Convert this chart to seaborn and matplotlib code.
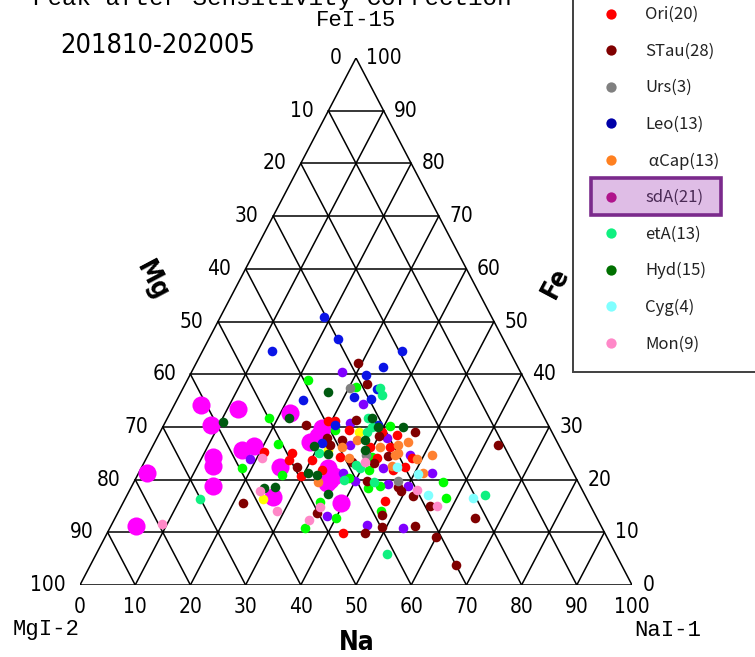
import numpy as np
import pandas as pd
import matplotlib
matplotlib.use("Agg")
import matplotlib.pyplot as plt
from matplotlib import font_manager
from matplotlib.font_manager import FontProperties
from matplotlib.patches import Rectangle
import seaborn as sns

sns.set_theme(style="white")
plt.rcParams["text.color"] = "black"

# ---------------------------------------------------------------- fonts
_fonts = font_manager.fontManager.ttflist


def condensed_font(bold=False):
    """Return a FontProperties for a narrow face, if one is installed."""
    want = "bold" if bold else "normal"
    prefs = ["Liberation Sans Narrow", "DejaVu Sans Condensed",
             "DejaVu Sans", "Roboto Condensed", "Open Sans Condensed",
             "Noto Sans"]
    for pref in prefs:
        for f in _fonts:
            narrow = ("Narrow" in f.name or "Condensed" in f.name
                      or "condensed" in str(f.stretch))
            w = f.weight if isinstance(f.weight, int) else (
                700 if "bold" in str(f.weight) else 400)
            if (f.name == pref and narrow and f.style == "normal"
                    and ((w >= 600) == bold)):
                return FontProperties(fname=f.fname)
    return FontProperties(family=["Liberation Sans", "DejaVu Sans"],
                          weight=want)


NARROW = condensed_font(False)
NARROW_BOLD = condensed_font(True)
MONO = ["Liberation Mono", "DejaVu Sans Mono"]
CJK = ["Noto Sans CJK JP", "DejaVu Sans"]


def fp(base, size):
    p = base.copy()
    p.set_size(size)
    return p


# ---------------------------------------------------------------- data
# Each shower: Na and Fe percentages (Mg = 100 - Na - Fe)
sdA_na = [4.8, 11.9, 8.5, 21.7, 1.5, 12.0, 12.8, 14.7, 16.5, 18.3, 25.0,
          26.6, 4.5, 28.9, 28.1, 33.8, 35.3, 39.5, 35.7, 35.0, 29.0]
sdA_fe = [34.2, 33.4, 30.4, 32.6, 21.3, 24.3, 22.6, 18.8, 25.6, 26.4, 22.4,
          16.7, 11.2, 29.8, 27.1, 22.2, 19.9, 15.6, 20.7, 19.4, 28.3]

ori_na = [29.3, 30.6, 43.2, 40.2, 43.1, 25.9, 26.1, 20.7, 35.0, 47.7,
          30.1, 47.3, 42.7, 48.1, 39.4, 32.9, 45.8, 34.0, 41.8, 29.6]
ori_fe = [31.1, 31.1, 28.5, 29.0, 26.2, 25.0, 23.7, 25.2, 24.3, 22.4,
          23.7, 15.9, 9.9, 24.1, 26.2, 21.8, 21.8, 29.4, 24.1, 20.7]

stau_na = [29.4, 32.9, 46.2, 40.1, 43.6, 41.7, 42.1, 62.4, 49.3, 51.9,
           55.9, 65.2, 59.9, 55.1, 49.2, 46.7, 48.1, 33.8, 30.8, 28.1,
           36.1, 21.7, 66.2, 34.3, 48.3, 37.6, 25.7, 32.0]
stau_fe = [42.1, 38.1, 29.0, 28.3, 24.5, 23.1, 19.7, 26.6, 17.8, 16.9,
           15.0, 12.7, 9.1, 11.2, 11.0, 9.9, 13.3, 27.5, 27.9, 22.4,
           13.7, 15.6, 3.8, 31.3, 18.6, 23.3, 30.4, 26.6]

urs_na = [30.2, 39.5, 47.7]
urs_fe = [37.4, 24.7, 19.7]

leo_na = [18.8, 23.4, 12.6, 36.1, 34.2, 31.9, 35.2, 31.7, 35.1, 22.8,
          38.8, 30.3, 31.0]
leo_fe = [50.9, 46.7, 44.4, 44.4, 41.4, 39.8, 37.2, 35.7, 35.3, 35.1,
          30.4, 26.9, 30.4]

cap_na = [34.4, 36.4, 41.2, 44.3, 45.8, 45.1, 51.5, 36.6, 45.2, 49.1,
          51.4, 33.3, 44.8]
cap_fe = [26.2, 27.5, 26.2, 26.6, 27.1, 25.0, 24.7, 24.1, 22.6, 23.9,
          21.3, 19.5, 24.7]

eta_na = [36.7, 35.6, 36.4, 37.5, 30.8, 38.6, 39.6, 52.7, 13.5, 64.9,
          37.9, 37.8, 43.5]
eta_fe = [36.1, 37.4, 31.7, 29.0, 25.0, 22.8, 22.2, 5.9, 16.3, 17.1,
          30.0, 19.9, 19.5]

hyd_na = [10.4, 22.1, 24.1, 26.0, 26.6, 37.1, 39.0, 43.5, 29.2, 32.5,
          37.8, 38.8, 30.7, 32.4, 36.3]
hyd_fe = [30.9, 31.7, 18.4, 18.6, 36.6, 31.7, 30.0, 30.0, 26.4, 24.9,
          27.5, 25.6, 21.3, 20.9, 17.3]

cyg_na = [46.2, 50.6, 54.5, 62.9]
cyg_fe = [22.4, 21.1, 17.1, 16.5]

mon_na = [21.0, 23.7, 28.7, 9.1, 52.1, 57.2, 36.1, 35.3, 39.9]
mon_fe = [24.1, 17.8, 14.0, 11.6, 18.0, 15.0, 14.8, 12.3, 23.3]

spo_na = [27.3, 34.1, 33.5, 41.7, 47.5, 53.2, 39.9, 46.2, 50.0, 38.2,
          46.3, 53.1, 18.8, 35.6, 43.8, 37.0]
spo_fe = [40.4, 34.3, 30.7, 27.9, 24.7, 21.3, 19.7, 19.2, 18.8, 13.1,
          11.4, 10.8, 23.9, 26.6, 22.2, 21.3]

gem_na = [21.8, 31.2, 41.1, 56.0, 58.0, 40.0, 35.4, 47.5, 44.9, 41.5,
          38.5, 18.3, 22.5, 18.2, 26.2, 31.5, 40.8, 35.6, 43.0]
gem_fe = [38.9, 37.6, 30.2, 19.5, 16.5, 12.7, 10.8, 14.0, 18.8, 21.8,
          20.3, 31.7, 26.8, 22.2, 20.9, 29.4, 24.3, 15.7, 18.4]

per_na = [25.0, 36.0, 32.1]
per_fe = [16.3, 29.0, 25.6]

# drawing order (first = bottom)
showers = ["sdA", "Spo", "Gem", "Per", "Ori", "STau", "Urs", "Leo",
           "αCap", "etA", "Hyd", "Cyg", "Mon"]
na_values = [sdA_na, spo_na, gem_na, per_na, ori_na, stau_na, urs_na,
             leo_na, cap_na, eta_na, hyd_na, cyg_na, mon_na]
fe_values = [sdA_fe, spo_fe, gem_fe, per_fe, ori_fe, stau_fe, urs_fe,
             leo_fe, cap_fe, eta_fe, hyd_fe, cyg_fe, mon_fe]
colors = {"sdA": "#ff00ff", "Spo": "#8000ff", "Gem": "#00ff00",
          "Per": "#ffff00", "Ori": "#ff0000", "STau": "#800000",
          "Urs": "#808080", "Leo": "#0a14e6", "αCap": "#ff8030",
          "etA": "#10f080", "Hyd": "#005a10", "Cyg": "#80ffff",
          "Mon": "#ff88c8"}

# legend rows
legend_names = ["Ori", "STau", "Urs", "Leo", "αCap", "sdA", "etA", "Hyd",
                "Cyg", "Mon"]
legend_colors = ["#ff0000", "#800000", "#808080", "#0000a8", "#ff8020",
                 "#b0148c", "#10f080", "#007000", "#80ffff", "#ff88c8"]
highlighted = "sdA"

frames = []
for name, na, fe in zip(showers, na_values, fe_values):
    frames.append(pd.DataFrame({"shower": name, "Na": na, "Fe": fe}))
df = pd.concat(frames, ignore_index=True)
df["Mg"] = 100 - df["Na"] - df["Fe"]
# ternary -> cartesian (base = Na axis, height = Fe)
df["x"] = df["Na"] + df["Fe"] / 2.0
df["y"] = df["Fe"]

# ---------------------------------------------------------------- figure
W, H = 755, 657
fig = plt.figure(figsize=(W / 100, H / 100), dpi=100)
fig.patch.set_facecolor("white")

# triangle: base from px 80 to 632 at y=585, apex at y=58
L, R, B, T = 80, 632, 585, 58
ax = fig.add_axes([L / W, (H - B) / H, (R - L) / W, (B - T) / H])
ax.set_xlim(0, 100)
ax.set_ylim(0, 100)
ax.set_axis_off()


def tern(na, fe):
    return na + fe / 2.0, fe


lw = 1.1
# grid lines in the three directions
for v in range(10, 100, 10):
    # constant Fe
    x0, y0 = tern(0, v)
    x1, y1 = tern(100 - v, v)
    ax.plot([x0, x1], [y0, y1], color="black", lw=lw, zorder=1)
    # constant Na
    x0, y0 = tern(v, 0)
    x1, y1 = tern(v, 100 - v)
    ax.plot([x0, x1], [y0, y1], color="black", lw=lw, zorder=1)
    # constant Mg
    x0, y0 = tern(100 - v, 0)
    x1, y1 = tern(0, 100 - v)
    ax.plot([x0, x1], [y0, y1], color="black", lw=lw, zorder=1)
ax.plot([0, 100, 50, 0], [0, 0, 100, 0], color="black", lw=lw, zorder=1)

# points
for name in showers:
    sub = df[df["shower"] == name]
    big = name == highlighted
    sns.scatterplot(data=sub, x="x", y="y", ax=ax, color=colors[name],
                    s=170 if big else 48, linewidth=0, legend=False,
                    zorder=2, clip_on=False)

# tick labels
tick_fp = fp(NARROW, 15)
for v in range(0, 101, 10):
    # Na along the base
    ax.text(v, -4.2, f"{v}", ha="center", va="center", color="black",
            fontproperties=tick_fp)
    # Mg along the left edge (value at the edge point with Na=0)
    x, y = tern(0, 100 - v)
    ax.text(x - 2.6, y, f"{v}", ha="right", va="center", color="black",
            fontproperties=tick_fp)
    # Fe along the right edge
    x, y = tern(100 - v, v)
    ax.text(x + 1.9, y, f"{v}", ha="left", va="center", color="black",
            fontproperties=tick_fp)

# corner and axis names
mono_font = dict(family=MONO, fontsize=16, color="black")
fig.text(356 / W, 1 - 21 / H, "FeI-15", ha="center", va="center",
         **mono_font)
fig.text(46 / W, 1 - 630 / H, "MgI-2", ha="center", va="center",
         **mono_font)
fig.text(668 / W, 1 - 630 / H, "NaI-1", ha="center", va="center",
         **mono_font)

bold_fp = fp(NARROW_BOLD, 19)
fig.text(357 / W, 1 - 643 / H, "Na", ha="center", va="center",
         color="black", fontproperties=bold_fp)
fig.text(152 / W, 1 - 281 / H, "Mg", ha="center", va="center",
         rotation=-62, color="black", fontproperties=bold_fp)
fig.text(556 / W, 1 - 283 / H, "Fe", ha="center", va="center",
         rotation=62, color="black", fontproperties=bold_fp)

# headings
fig.text(33 / W, 1 - 5 / H, "Peak after Sensitivity Correction",
         ha="left", va="baseline", family=MONO, fontsize=17.5,
         color="black")
fig.text(60 / W, 1 - 46 / H, "201810-202005", ha="left", va="center",
         color="black", fontproperties=fp(NARROW, 19.5))

# ---------------------------------------------------------------- legend
lax = fig.add_axes([0, 0, 1, 1], facecolor="none")
lax.set_xlim(0, W)
lax.set_ylim(H, 0)
lax.set_axis_off()
lax.add_patch(Rectangle((573, -60), 260, 432, facecolor="none",
                        edgecolor="#404040", lw=1.4, zorder=1))
row0, step = 13.5, 36.6
for i, (name, col) in enumerate(zip(legend_names, legend_colors)):
    yy = row0 + i * step
    if name == highlighted:
        lax.add_patch(Rectangle((591, yy - 19), 130, 37,
                                facecolor="#dfbde6", edgecolor="#7b2a8c",
                                lw=2.6, zorder=2))
    lax.scatter([611], [yy], s=55, color=col, linewidths=0, zorder=3)
    count = len(na_values[showers.index(name)])
    label = f"{name}({count})"
    if name.startswith("α"):
        label = " " + label
    lax.text(645, yy + 1, label, ha="left", va="center",
             family=CJK, fontsize=12,
             color="#4a2a55" if name == highlighted else "#222222",
             zorder=4)

fig.savefig("out.png", dpi=100, facecolor="white")
